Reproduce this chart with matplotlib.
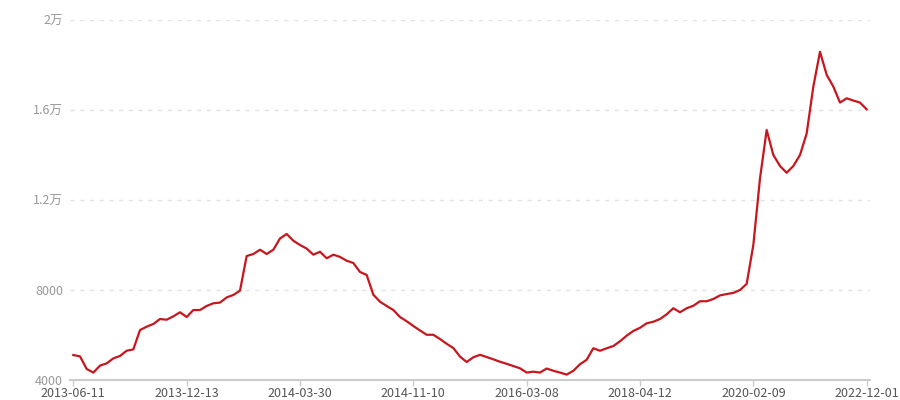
import matplotlib.pyplot as plt

plt.rcParams['font.family'] = ['Noto Sans CJK SC', 'DejaVu Sans']

# tick labels shown on the category x axis (every 17th point)
tick_labels = ['2013-06-11', '2013-12-13', '2014-03-30', '2014-11-10',
               '2016-03-08', '2018-04-12', '2020-02-09', '2022-12-01']
tick_index = [0, 17, 34, 51, 68, 85, 102, 119]

# price series (120 points)
values = [
    5110, 5050, 4490, 4330, 4640, 4740, 4960, 5070, 5300, 5360,
    6220, 6370, 6490, 6710, 6680, 6830, 7010, 6800, 7110, 7110,
    7290, 7410, 7440, 7670, 7780, 7970, 9510, 9600, 9790, 9600,
    9790, 10290, 10490, 10190, 10000, 9840, 9570, 9700, 9410, 9570,
    9470, 9300, 9200, 8800, 8670, 7790, 7480, 7290, 7110, 6800,
    6610, 6400, 6200, 6010, 6010, 5820, 5610, 5420, 5040, 4800,
    5010, 5120, 5020, 4920, 4810, 4720, 4620, 4520, 4330, 4370,
    4330, 4510, 4410, 4330, 4240, 4410, 4700, 4900, 5410, 5300,
    5410, 5510, 5720, 5970, 6180, 6320, 6520, 6590, 6710, 6920,
    7190, 7010, 7190, 7300, 7500, 7500, 7600, 7760, 7820, 7870,
    8000, 8270, 10000, 12960, 15110, 14000, 13510, 13210, 13510, 14000,
    14960, 17040, 18590, 17560, 17040, 16330, 16520, 16420, 16330, 16030,
]

y_ticks = [4000, 8000, 12000, 16000, 20000]
y_labels = ['4000', '8000', '1.2万', '1.6万', '2万']

fig = plt.figure(figsize=(9, 4), dpi=100)
ax = fig.add_axes([70 / 900, 20 / 400, 800 / 900, 360 / 400])

ax.plot(range(len(values)), values, color='#c8161e', linewidth=1.6, zorder=3)

ax.set_xlim(-0.5, len(values) - 0.5)
ax.set_ylim(4000, 20000)

for y in y_ticks[1:]:
    ax.axhline(y, color='#e3e3e3', linewidth=1, linestyle=(0, (3, 4)), zorder=1)

ax.set_yticks(y_ticks)
ax.set_yticklabels(y_labels)
ax.set_xticks(tick_index)
ax.set_xticklabels(tick_labels)

for s in ['top', 'right', 'left']:
    ax.spines[s].set_visible(False)
ax.spines['bottom'].set_color('#cccccc')
ax.spines['bottom'].set_linewidth(1.5)

ax.tick_params(axis='y', length=0, pad=5, labelsize=9, labelcolor='#999999')
ax.tick_params(axis='x', length=4, width=1, color='#cccccc', pad=1,
               labelsize=9, labelcolor='#555555')

fig.savefig('out.png', dpi=100)
